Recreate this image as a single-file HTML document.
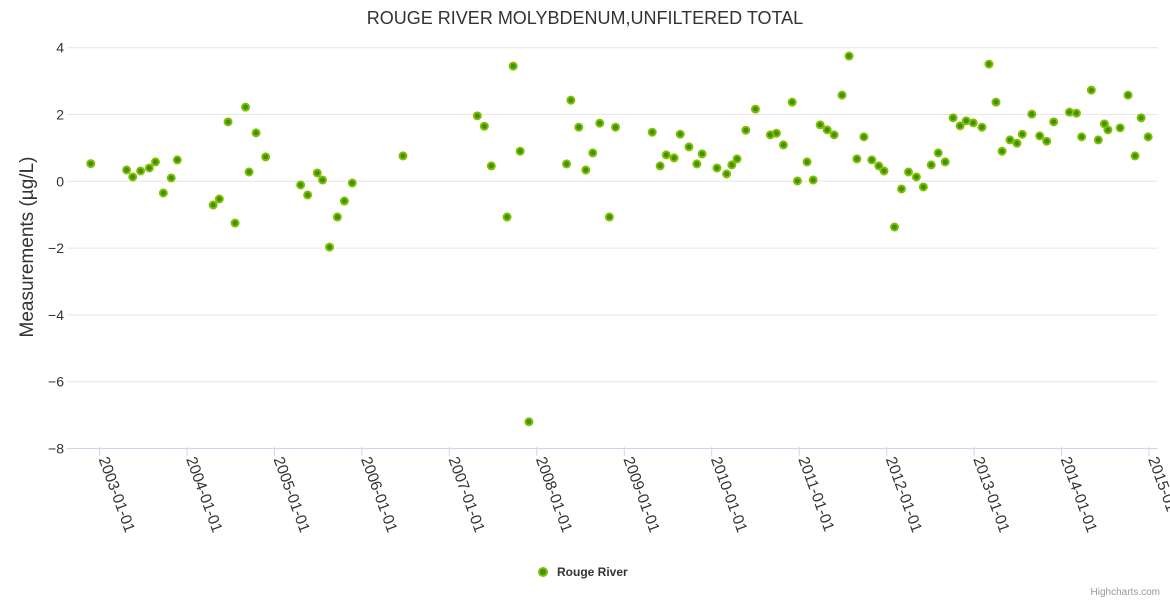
<!DOCTYPE html>
<html><head><meta charset="utf-8"><style>
body{margin:0;background:#fff;font-family:"Liberation Sans",sans-serif}
</style></head><body>
<svg id="chart" width="1170" height="600" xmlns="http://www.w3.org/2000/svg">
<text x="585" y="24" text-anchor="middle" font-size="18" fill="#333">ROUGE RIVER MOLYBDENUM,UNFILTERED TOTAL</text>
<text transform="translate(33,247) rotate(-90)" text-anchor="middle" font-size="19" fill="#333">Measurements (µg/L)</text>
<g id="grid"></g><g id="xaxis"></g><g id="pts"></g>
<g>
<circle cx="543" cy="572" r="4" fill="#3f8f00" stroke="#80c000" stroke-width="2"/>
<text x="557" y="576" font-size="12" font-weight="bold" fill="#333">Rouge River</text></g>
<text x="1160" y="595" text-anchor="end" font-size="10" fill="#999">Highcharts.com</text>
</svg>
<script>
const yTicks=[4,2,0,-2,-4,-6,-8];
const xTickYears=[2003,2004,2005,2006,2007,2008,2009,2010,2011,2012,2013,2014,2015];
const dates=[2002.90,2003.31,2003.38,2003.47,2003.57,2003.64,2003.73,2003.82,2003.89,2004.30,2004.37,2004.47,2004.55,2004.67,2004.71,2004.79,2004.90,2005.30,2005.38,2005.49,2005.55,2005.63,2005.72,2005.80,2005.89,2006.47,2007.32,2007.40,2007.48,2007.66,2007.73,2007.81,2007.91,2008.34,2008.39,2008.48,2008.56,2008.64,2008.72,2008.83,2008.90,2009.32,2009.41,2009.48,2009.57,2009.64,2009.74,2009.83,2009.89,2010.06,2010.17,2010.23,2010.29,2010.39,2010.50,2010.67,2010.74,2010.82,2010.92,2010.98,2011.09,2011.16,2011.24,2011.32,2011.40,2011.49,2011.57,2011.66,2011.74,2011.83,2011.91,2011.97,2012.09,2012.17,2012.25,2012.34,2012.42,2012.51,2012.59,2012.67,2012.76,2012.84,2012.91,2012.99,2013.09,2013.17,2013.25,2013.32,2013.41,2013.49,2013.55,2013.66,2013.75,2013.83,2013.91,2014.09,2014.17,2014.23,2014.34,2014.42,2014.49,2014.53,2014.67,2014.76,2014.84,2014.91,2014.99];
const values=[0.53,0.34,0.13,0.31,0.40,0.58,-0.35,0.10,0.64,-0.71,-0.53,1.78,-1.25,2.22,0.28,1.45,0.73,-0.11,-0.41,0.25,0.04,-1.97,-1.07,-0.59,-0.05,0.76,1.96,1.65,0.46,-1.07,3.45,0.90,-7.2,0.52,2.43,1.62,0.34,0.85,1.74,-1.07,1.62,1.47,0.46,0.79,0.70,1.41,1.03,0.52,0.82,0.40,0.22,0.49,0.67,1.53,2.16,1.39,1.44,1.09,2.37,0.01,0.58,0.04,1.69,1.54,1.39,2.58,3.75,0.67,1.33,0.64,0.46,0.31,-1.37,-0.23,0.28,0.13,-0.17,0.49,0.85,0.58,1.90,1.66,1.81,1.75,1.62,3.51,2.37,0.90,1.24,1.14,1.41,2.01,1.36,1.20,1.78,2.07,2.04,1.33,2.73,1.24,1.72,1.54,1.60,2.58,0.76,1.90,1.33];
const NS="http://www.w3.org/2000/svg";
const X=yr=>99.5+(yr-2003)*87.46;
const Y=v=>181.3-v*33.4;
function mk(t,a,p){const e=document.createElementNS(NS,t);for(const k in a)e.setAttribute(k,a[k]);p.appendChild(e);return e;}
const grid=document.getElementById('grid');
yTicks.forEach(v=>{
  const l=mk('line',{x1:67,x2:1158,y1:Y(v),y2:Y(v),stroke:v===-8?'#ccd6eb':'#e6e6e6','stroke-width':1},grid);
  
  
  const t=mk('text',{x:64,y:Y(v)+5,'text-anchor':'end','font-size':14,fill:'#333'},grid);
  t.textContent=(v<0?'\u2212'+(-v):v);
  
  
});
const xa=document.getElementById('xaxis');
xTickYears.forEach(yr=>{
  const x=X(yr);
  const tk=mk('line',{x1:x,x2:x,y1:447,y2:456,stroke:'#ccd6eb'},xa);
  
  
  const t=mk('text',{transform:`translate(${x-1},${459}) rotate(70)`,'font-size':15.5,fill:'#333'},xa);
  t.textContent=yr+'-01-01';
  
  
});
const pts=document.getElementById('pts');
dates.forEach((d,i)=>{
  const c=mk('circle',{cx:X(d),cy:Y(values[i]),r:3.5,fill:'#3f8f00',stroke:'#80c000','stroke-width':2},pts);
  
  
});
</script>
</body></html>
